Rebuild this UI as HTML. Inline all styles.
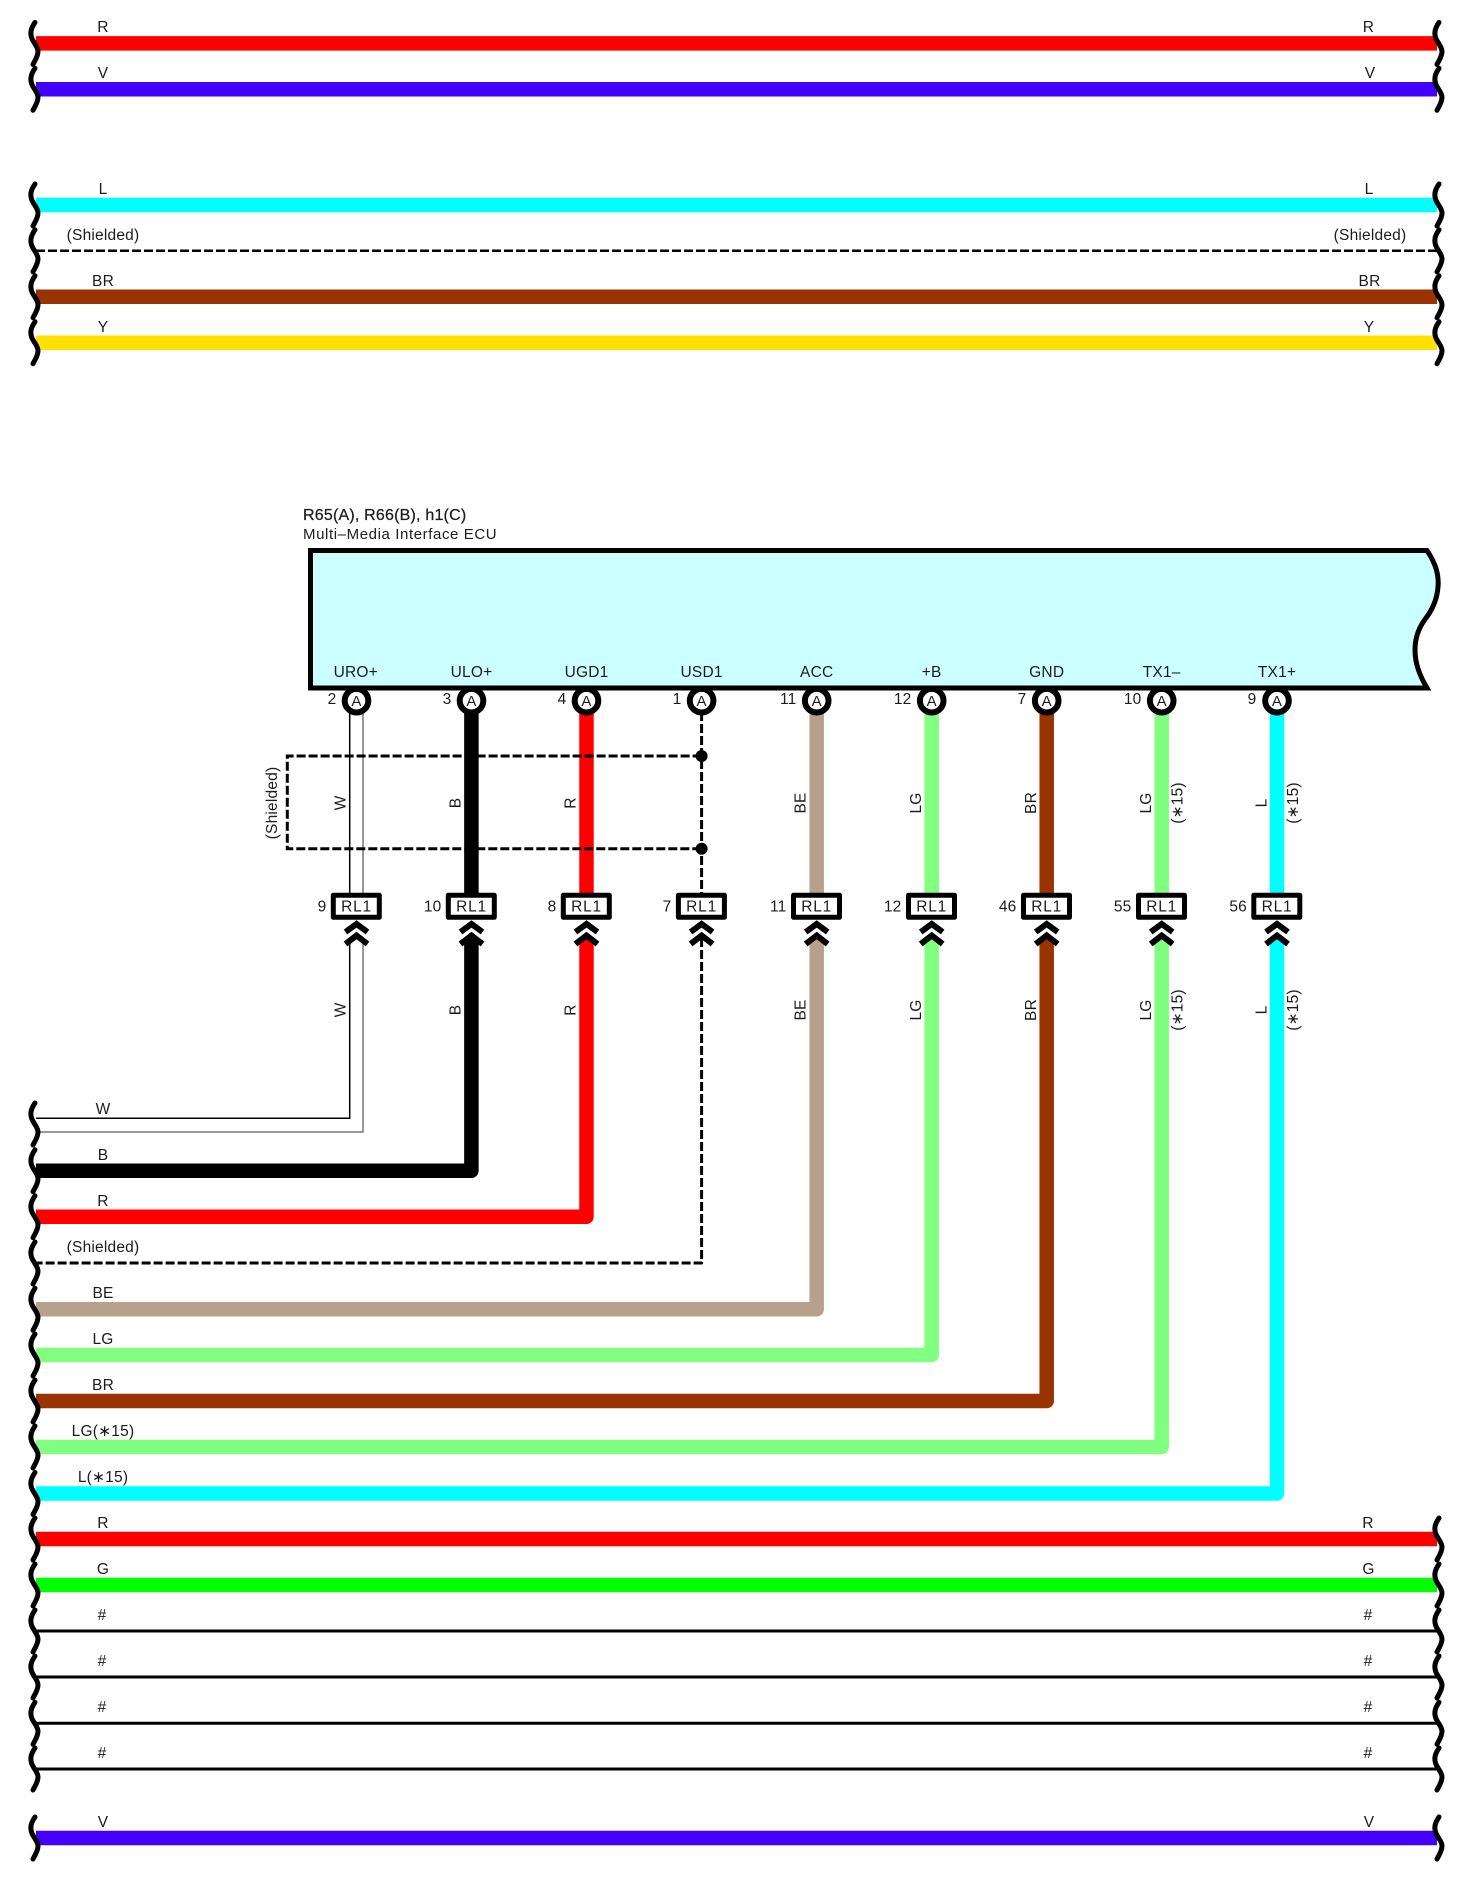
<!DOCTYPE html>
<html><head><meta charset="utf-8"><style>
html,body{margin:0;padding:0;background:#fff}
svg{display:block}
text{font-family:"Liberation Sans",sans-serif;font-size:15.5px;fill:#1c1c1c;letter-spacing:.2px}
.c{text-anchor:middle}
.e{text-anchor:end}
.w{fill:none;stroke-linejoin:round}
</style></head><body>
<svg width="1471" height="1880" viewBox="0 0 1471 1880" xmlns="http://www.w3.org/2000/svg">
<defs>
<path id="wv" d="M35,-21 C31,-15 30,-11 31.5,-6 C33,-1 38,3 38,8 C38,13 35,17 33,21" fill="none" stroke="#000" stroke-width="5" stroke-linecap="round"/>
<g id="conn">
<rect x="-23.2" y="895.3" width="46" height="22" fill="#fff" stroke="#000" stroke-width="5" stroke-linejoin="round"/>
<path d="M-11,932 L0,924 L11,932 M-11,944 L0,935.5 L11,944" fill="none" stroke="#000" stroke-width="6"/>
</g>
<g id="pin"><circle cx="0" cy="700.7" r="11.8" fill="#fff" stroke="#000" stroke-width="6"/></g>
</defs>

<!-- top horizontal wires -->
<g fill="none">
<path d="M36,43.4H1437" stroke="#f00" stroke-width="14.5"/>
<path d="M36,89.3H1437" stroke="#4400ff" stroke-width="14.5"/>
<path d="M36,205H1437" stroke="#0ff" stroke-width="14.5"/>
<path d="M36,250.8H1437" stroke="#000" stroke-width="2.5" stroke-dasharray="9 3"/>
<path d="M36,296.7H1437" stroke="#993300" stroke-width="14.5"/>
<path d="M36,342.7H1437" stroke="#ffe000" stroke-width="14.5"/>
</g>
<!-- bottom horizontal wires -->
<g fill="none">
<path d="M36,1539H1437" stroke="#f00" stroke-width="14.5"/>
<path d="M36,1585H1437" stroke="#0f0" stroke-width="14.5"/>
<path d="M36,1631H1437M36,1677H1437M36,1723.3H1437M36,1769H1437" stroke="#000" stroke-width="3"/>
<path d="M36,1838H1437" stroke="#4400ff" stroke-width="14.5"/>
</g>

<!-- ECU box -->
<path d="M310.5,550.5H1427C1436,564 1439,575 1438,587C1437,600 1432,610 1426,618C1419,627 1415,637 1415,650C1415,664 1420,676 1427,688H310.5Z" fill="#ccffff" stroke="#000" stroke-width="5"/>
<text x="303" y="520" style="font-size:16px;stroke:#1c1c1c;stroke-width:.25px">R65(A), R66(B), h1(C)</text>
<text x="303" y="539" style="font-size:15px;letter-spacing:.6px">Multi–Media Interface ECU</text>

<!-- upper vertical + lower wires -->
<g class="w">
<path d="M349.7,712V893M349.7,938V1118.3H36" stroke="#000" stroke-width="1.5"/>
<path d="M363,712V893M363,938V1132H36" stroke="#777" stroke-width="1.5"/>
<path d="M471.4,712V893M471.4,938V1170.7H36" stroke="#000" stroke-width="14.5"/>
<path d="M586.5,712V893M586.5,938V1216.7H36" stroke="#f00" stroke-width="14.5"/>
<path d="M701.6,712V893M701.6,938V1263H36" stroke="#000" stroke-width="3" stroke-dasharray="9 3"/>
<path d="M816.7,712V893M816.7,938V1309.3H36" stroke="#b8a18c" stroke-width="14.5"/>
<path d="M931.7,712V893M931.7,938V1355H36" stroke="#80ff80" stroke-width="14.5"/>
<path d="M1046.7,712V893M1046.7,938V1401H36" stroke="#993300" stroke-width="14.5"/>
<path d="M1161.7,712V893M1161.7,938V1447H36" stroke="#80ff80" stroke-width="14.5"/>
<path d="M1277,712V893M1277,938V1493.5H36" stroke="#0ff" stroke-width="14.5"/>
</g>

<!-- shield -->
<path d="M701.6,756H287.3V848.7H701.6" fill="none" stroke="#000" stroke-width="3" stroke-dasharray="9 3"/>
<circle cx="701.6" cy="756" r="6" fill="#000"/>
<circle cx="701.6" cy="848.7" r="6" fill="#000"/>

<!-- wave breaks -->
<g>
<use href="#wv" y="43.4"/><use href="#wv" y="89.3"/>
<use href="#wv" y="205"/><use href="#wv" y="250.8"/><use href="#wv" y="296.7"/><use href="#wv" y="342.7"/>
<use href="#wv" y="1124"/><use href="#wv" y="1170.7"/><use href="#wv" y="1216.7"/><use href="#wv" y="1263"/><use href="#wv" y="1309.3"/><use href="#wv" y="1355"/><use href="#wv" y="1401"/><use href="#wv" y="1447"/><use href="#wv" y="1493.5"/><use href="#wv" y="1539"/><use href="#wv" y="1585"/><use href="#wv" y="1631"/><use href="#wv" y="1677"/><use href="#wv" y="1723.3"/><use href="#wv" y="1769"/><use href="#wv" y="1838"/>
<g transform="translate(1404,0)">
<use href="#wv" y="43.4"/><use href="#wv" y="89.3"/>
<use href="#wv" y="205"/><use href="#wv" y="250.8"/><use href="#wv" y="296.7"/><use href="#wv" y="342.7"/>
<use href="#wv" y="1539"/><use href="#wv" y="1585"/><use href="#wv" y="1631"/><use href="#wv" y="1677"/><use href="#wv" y="1723.3"/><use href="#wv" y="1769"/><use href="#wv" y="1838"/>
</g>
</g>

<!-- pins -->
<use href="#pin" x="356.5"/><use href="#pin" x="471.5"/><use href="#pin" x="586.5"/><use href="#pin" x="701.6"/><use href="#pin" x="816.7"/><use href="#pin" x="931.7"/><use href="#pin" x="1046.7"/><use href="#pin" x="1161.7"/><use href="#pin" x="1277"/>
<!-- connectors -->
<use href="#conn" x="356.5"/><use href="#conn" x="471.5"/><use href="#conn" x="586.5"/><use href="#conn" x="701.6"/><use href="#conn" x="816.7"/><use href="#conn" x="931.7"/><use href="#conn" x="1046.7"/><use href="#conn" x="1161.7"/><use href="#conn" x="1277"/>

<g transform="translate(0,-1)">
<!-- signal names -->
<text class="c" x="355.8" y="678">URO+</text><text class="c" x="471.5" y="678">ULO+</text><text class="c" x="586.5" y="678">UGD1</text><text class="c" x="701.6" y="678">USD1</text><text class="c" x="816.7" y="678">ACC</text><text class="c" x="931.7" y="678">+B</text><text class="c" x="1046.7" y="678">GND</text><text class="c" x="1161.7" y="678">TX1–</text><text class="c" x="1277" y="678">TX1+</text>
<text class="c" x="356.5" y="707" style="font-size:15px">A</text><text class="c" x="471.5" y="707" style="font-size:15px">A</text><text class="c" x="586.5" y="707" style="font-size:15px">A</text><text class="c" x="701.6" y="707" style="font-size:15px">A</text><text class="c" x="816.7" y="707" style="font-size:15px">A</text><text class="c" x="931.7" y="707" style="font-size:15px">A</text><text class="c" x="1046.7" y="707" style="font-size:15px">A</text><text class="c" x="1161.7" y="707" style="font-size:15px">A</text><text class="c" x="1277" y="707" style="font-size:15px">A</text>
<text class="e" x="336.5" y="705">2</text><text class="e" x="451.5" y="705">3</text><text class="e" x="566.5" y="705">4</text><text class="e" x="681.5" y="705">1</text><text class="e" x="796.5" y="705">11</text><text class="e" x="911.5" y="705">12</text><text class="e" x="1026.5" y="705">7</text><text class="e" x="1141.5" y="705">10</text><text class="e" x="1256.5" y="705">9</text>

<text class="c" x="356.5" y="912.5" style="letter-spacing:.8px">RL1</text><text class="c" x="471.5" y="912.5" style="letter-spacing:.8px">RL1</text><text class="c" x="586.5" y="912.5" style="letter-spacing:.8px">RL1</text><text class="c" x="701.6" y="912.5" style="letter-spacing:.8px">RL1</text><text class="c" x="816.7" y="912.5" style="letter-spacing:.8px">RL1</text><text class="c" x="931.7" y="912.5" style="letter-spacing:.8px">RL1</text><text class="c" x="1046.7" y="912.5" style="letter-spacing:.8px">RL1</text><text class="c" x="1161.7" y="912.5" style="letter-spacing:.8px">RL1</text><text class="c" x="1277" y="912.5" style="letter-spacing:.8px">RL1</text>
<text class="e" x="326.5" y="912.5">9</text><text class="e" x="441.5" y="912.5">10</text><text class="e" x="556.5" y="912.5">8</text><text class="e" x="671.5" y="912.5">7</text><text class="e" x="786.5" y="912.5">11</text><text class="e" x="901.5" y="912.5">12</text><text class="e" x="1016.5" y="912.5">46</text><text class="e" x="1131.5" y="912.5">55</text><text class="e" x="1247" y="912.5">56</text>

<!-- left labels -->
<text class="c" x="103" y="33">R</text><text class="c" x="103" y="79">V</text>
<text class="c" x="103" y="195">L</text><text class="c" x="103" y="241">(Shielded)</text><text class="c" x="103" y="287">BR</text><text class="c" x="103" y="333">Y</text>
<text class="c" x="103" y="1115">W</text><text class="c" x="103" y="1161">B</text><text class="c" x="103" y="1207">R</text><text class="c" x="103" y="1253">(Shielded)</text><text class="c" x="103" y="1299">BE</text><text class="c" x="103" y="1345">LG</text><text class="c" x="103" y="1391">BR</text><text class="c" x="103" y="1437">LG(∗15)</text><text class="c" x="103" y="1483">L(∗15)</text>
<text class="c" x="103" y="1529">R</text><text class="c" x="103" y="1575">G</text><text class="c" x="102" y="1621">#</text><text class="c" x="102" y="1667">#</text><text class="c" x="102" y="1713">#</text><text class="c" x="102" y="1759">#</text><text class="c" x="103" y="1828">V</text>
<!-- right labels -->
<text class="c" x="1368.5" y="33">R</text><text class="c" x="1370" y="79">V</text>
<text class="c" x="1369" y="195">L</text><text class="c" x="1370" y="241">(Shielded)</text><text class="c" x="1369.5" y="287">BR</text><text class="c" x="1369" y="333">Y</text>
<text class="c" x="1368" y="1529">R</text><text class="c" x="1368.5" y="1575">G</text><text class="c" x="1368" y="1621">#</text><text class="c" x="1368" y="1667">#</text><text class="c" x="1368" y="1713">#</text><text class="c" x="1368" y="1759">#</text><text class="c" x="1369" y="1828">V</text>
</g>

<!-- rotated labels upper -->
<text class="c" transform="translate(277,803) rotate(-90)">(Shielded)</text>
<text class="c" transform="translate(345.5,803) rotate(-90)">W</text>
<text class="c" transform="translate(460.5,803) rotate(-90)">B</text>
<text class="c" transform="translate(575.5,803) rotate(-90)">R</text>
<text class="c" transform="translate(805.7,803) rotate(-90)">BE</text>
<text class="c" transform="translate(921,803) rotate(-90)">LG</text>
<text class="c" transform="translate(1036,803) rotate(-90)">BR</text>
<text class="c" transform="translate(1151,803) rotate(-90)">LG</text>
<text class="c" transform="translate(1266.5,803) rotate(-90)">L</text>
<text class="c" transform="translate(1182.5,803) rotate(-90)">(∗15)</text>
<text class="c" transform="translate(1298,803) rotate(-90)">(∗15)</text>
<!-- rotated labels lower -->
<text class="c" transform="translate(345.5,1010) rotate(-90)">W</text>
<text class="c" transform="translate(460.5,1010) rotate(-90)">B</text>
<text class="c" transform="translate(575.5,1010) rotate(-90)">R</text>
<text class="c" transform="translate(805.7,1010) rotate(-90)">BE</text>
<text class="c" transform="translate(921,1010) rotate(-90)">LG</text>
<text class="c" transform="translate(1036,1010) rotate(-90)">BR</text>
<text class="c" transform="translate(1151,1010) rotate(-90)">LG</text>
<text class="c" transform="translate(1266.5,1010) rotate(-90)">L</text>
<text class="c" transform="translate(1182.5,1010) rotate(-90)">(∗15)</text>
<text class="c" transform="translate(1298,1010) rotate(-90)">(∗15)</text>
</svg>
</body></html>
